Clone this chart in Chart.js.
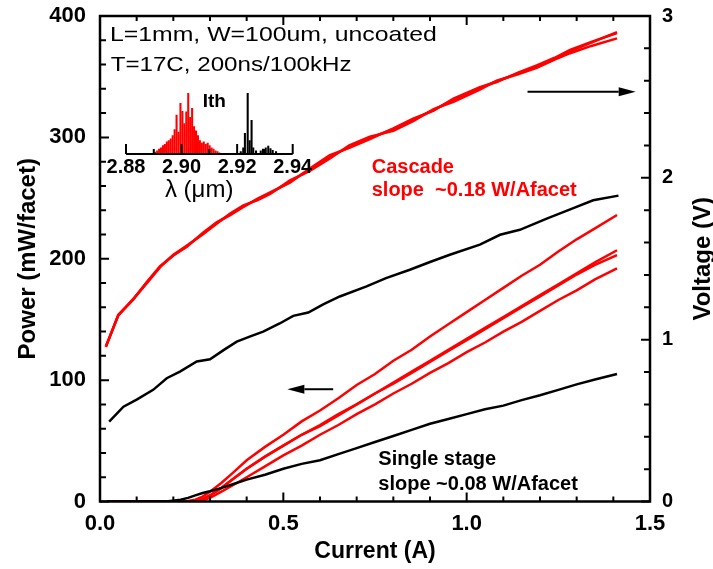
<!DOCTYPE html>
<html>
<head>
<meta charset="utf-8">
<script src="https://cdn.jsdelivr.net/npm/chart.js@4.4.1/dist/chart.umd.min.js"></script>
<style>
  html, body { margin: 0; padding: 0; background: #fff; }
  #wrap { position: relative; width: 713px; height: 569px; }
  #main { position: absolute; left: 0; top: 0; }
  #inset { position: absolute; left: 100px; top: 80px; }
</style>
</head>
<body>
<div id="wrap">
  <canvas id="main" width="713" height="569"></canvas>
  <canvas id="inset" width="230" height="130"></canvas>
</div>
<script>
// ---- power vs current (left axis, mW/facet) ----
const powerCurrent = [0.02,0.10,0.18,0.22,0.24,0.26,0.28,0.30,0.33,0.36,0.40,0.45,0.50,0.55,0.60,0.65,0.70,0.75,0.80,0.85,0.90,0.95,1.00,1.05,1.10,1.15,1.20,1.25,1.30,1.35,1.41];
const powerCascadeA = [0,0,0,0,0.5,1.5,4,8,15,23,34,45,55,66,75,85,96,105,116,125,136,146,156,166,176,186,195,206,216,225,236];
const powerCascadeB = [0,0,0,0,0,0.5,2,5,11,18,27,37,46,55,63,72,80,89,98,107,116,125,134,143,152,161,170,179,188,197,207];
const powerCascadeC = [0,0,0,0,0,0.5,2,5,11,18,27,37,46,55,62,71,80,89,97,106,115,124,133,142,151,160,169,178,187,195,203];
const powerCascadeD = [0,0,0,0,0,0,1,3,8,13,20,29,38,46,55,63,72,80,89,97,106,114,123,131,140,148,157,166,174,183,192];
const powerSingle   = [0,0,0,1.5,3,5,7,8.5,11,14,18,22,27,31,34,39,44,49,54,59,64,68,72,76,79,83.5,87.5,92,96.5,100.5,105];

// ---- voltage vs current (right axis, V) ----
const voltCurrentCascade = [0.016,0.05,0.09,0.13,0.164,0.20,0.236,0.28,0.318,0.355,0.391,0.43,0.464,0.518,0.57,0.627,0.68,0.736,0.80,0.854,0.91,0.964,1.036,1.082,1.14,1.191,1.24,1.282,1.34,1.41];
const voltCascade1 = [0.957,1.154,1.246,1.36,1.452,1.52,1.576,1.655,1.721,1.775,1.824,1.868,1.906,1.975,2.05,2.133,2.19,2.247,2.30,2.36,2.42,2.483,2.556,2.597,2.645,2.69,2.737,2.782,2.835,2.90];
const voltCascade2 = [0.96,1.15,1.25,1.355,1.448,1.525,1.58,1.65,1.716,1.78,1.83,1.862,1.90,1.985,2.04,2.12,2.2,2.255,2.29,2.35,2.425,2.47,2.545,2.60,2.64,2.68,2.73,2.77,2.815,2.862];
const voltCascade3 = [0.955,1.152,1.248,1.362,1.455,1.522,1.572,1.66,1.725,1.77,1.82,1.872,1.91,1.97,2.055,2.14,2.185,2.24,2.305,2.365,2.415,2.49,2.56,2.592,2.65,2.695,2.742,2.79,2.84,2.895];
const voltCurrentSingle = [0.025,0.064,0.10,0.145,0.182,0.218,0.264,0.30,0.34,0.373,0.41,0.445,0.49,0.527,0.568,0.61,0.654,0.727,0.78,0.845,0.90,0.954,1.036,1.091,1.145,1.22,1.291,1.345,1.414];
const voltSingle = [0.494,0.586,0.63,0.690,0.762,0.803,0.865,0.879,0.94,0.988,1.02,1.05,1.10,1.147,1.168,1.22,1.267,1.329,1.38,1.432,1.48,1.525,1.587,1.648,1.679,1.75,1.813,1.861,1.890];

// ---- inset spectrum at threshold (normalised) ----
const specRedWl = [2.8905,2.8912,2.8919,2.8926,2.8933,2.8940,2.8947,2.8954,2.8961,2.8968,2.8975,2.8982,2.8989,2.8996,2.9003,2.9010,2.9017,2.9024,2.9031,2.9038,2.9045,2.9052,2.9059,2.9066,2.9073,2.9080,2.9087,2.9094,2.9101,2.9108,2.9115,2.9122,2.9129,2.9136,2.9150];
const specRedInt = [0.03,0.05,0.08,0.10,0.14,0.16,0.20,0.22,0.25,0.30,0.40,0.64,0.36,0.83,0.70,0.50,0.69,1.00,0.60,0.75,0.45,0.38,0.30,0.22,0.18,0.20,0.16,0.18,0.14,0.10,0.08,0.05,0.04,0.02,0.01];
const specBlackWl = [2.9213,2.9222,2.9228,2.9238,2.9245,2.9252,2.9258,2.9268,2.9285,2.9293,2.9303,2.9312,2.9320,2.9328,2.9340];
const specBlackInt = [0.04,0.10,0.34,1.00,0.22,0.55,0.10,0.05,0.05,0.08,0.10,0.13,0.09,0.06,0.04];

const FONT = '"Liberation Sans", Arial, sans-serif';
const pts = (xs, ys) => xs.map((x, i) => ({ x: x, y: ys[i] }));

function lineSet(xs, ys, color, axis) {
  return { data: pts(xs, ys), borderColor: color, borderWidth: 2.5, yAxisID: axis, showLine: true, pointRadius: 0, fill: false };
}

function drawText(ctx, s, px, py, font, color, width) {
  ctx.save();
  ctx.font = font; ctx.fillStyle = color; ctx.textBaseline = 'alphabetic'; ctx.textAlign = 'left';
  ctx.translate(px, py);
  if (width) ctx.scale(width / ctx.measureText(s).width, 1);
  ctx.fillText(s, 0, 0);
  ctx.restore();
}

function arrow(ctx, x0, x1, y) {
  const dir = Math.sign(x1 - x0), head = 17;
  ctx.save();
  ctx.strokeStyle = '#000'; ctx.fillStyle = '#000'; ctx.lineWidth = 2;
  ctx.beginPath(); ctx.moveTo(x0, y); ctx.lineTo(x1 - dir * head, y); ctx.stroke();
  ctx.beginPath(); ctx.moveTo(x1, y); ctx.lineTo(x1 - dir * head, y - 4.5); ctx.lineTo(x1 - dir * head, y + 4.5); ctx.closePath(); ctx.fill();
  ctx.restore();
}

// frame with inward ticks, arrows and notes
const frame = {
  id: 'frame',
  afterDatasetsDraw(chart) {
    const { ctx, chartArea: a, scales } = chart;
    const { x, y, yV } = scales;
    ctx.save();
    ctx.strokeStyle = '#000';
    ctx.lineWidth = 2;
    ctx.beginPath();
    for (let v = 0; v <= 1.5001; v += 0.1) {
      const px = x.getPixelForValue(v), len = Math.abs(v * 2 - Math.round(v * 2)) < 1e-6 ? 9 : 5;
      ctx.moveTo(px, a.bottom); ctx.lineTo(px, a.bottom - len);
      ctx.moveTo(px, a.top); ctx.lineTo(px, a.top + len);
    }
    for (let v = 0; v <= 400; v += 20) {
      const py = y.getPixelForValue(v), len = v % 100 === 0 ? 9 : 6;
      ctx.moveTo(a.left, py); ctx.lineTo(a.left + len, py);
    }
    for (let v = 0; v <= 3.0001; v += 0.2) {
      const py = yV.getPixelForValue(v), len = Math.abs(v - Math.round(v)) < 1e-6 ? 9 : 6;
      ctx.moveTo(a.right, py); ctx.lineTo(a.right - len, py);
    }
    ctx.stroke();
    ctx.lineWidth = 2.5;
    ctx.strokeRect(a.left, a.top, a.right - a.left, a.bottom - a.top);
    ctx.restore();

    // right axis title, reading bottom to top
    ctx.save();
    ctx.translate(703, (a.top + a.bottom) / 2);
    ctx.rotate(-Math.PI / 2);
    ctx.font = 'bold 24px ' + FONT; ctx.fillStyle = '#000';
    ctx.textAlign = 'center'; ctx.textBaseline = 'middle';
    ctx.fillText('Voltage (V)', 0, 0);
    ctx.restore();

    arrow(ctx, x.getPixelForValue(1.166), x.getPixelForValue(1.461), y.getPixelForValue(337.5));
    arrow(ctx, x.getPixelForValue(0.636), x.getPixelForValue(0.511), y.getPixelForValue(92.5));

    const X = v => x.getPixelForValue(v), Y = v => y.getPixelForValue(v);
    drawText(ctx, 'L=1mm, W=100um, uncoated', X(0.027), Y(379), '21px ' + FONT, '#000', 327);
    drawText(ctx, 'T=17C, 200ns/100kHz', X(0.029), Y(354.5), '21px ' + FONT, '#000', 241);
    drawText(ctx, 'Cascade', X(0.741), Y(270.7), 'bold 20px ' + FONT, '#ff0000');
    drawText(ctx, 'slope  ~0.18 W/Afacet', X(0.741), Y(251.4), 'bold 20px ' + FONT, '#ff0000');
    drawText(ctx, 'Single stage', X(0.759), Y(30.1), 'bold 20px ' + FONT, '#000');
    drawText(ctx, 'slope ~0.08 W/Afacet', X(0.759), Y(9.5), 'bold 20px ' + FONT, '#000');
  }
};

// vertical scales: no extra top/bottom padding so the plot box starts at the layout padding
const noVPad = w => s => { s.width = w; s.paddingTop = 0; s.paddingBottom = 0; };

new Chart(document.getElementById('main'), {
  type: 'scatter',
  data: {
    datasets: [
      lineSet(powerCurrent, powerSingle, '#000000', 'y'),
      lineSet(voltCurrentSingle, voltSingle, '#000000', 'yV'),
      lineSet(powerCurrent, powerCascadeA, '#ff0000', 'y'),
      lineSet(powerCurrent, powerCascadeB, '#ff0000', 'y'),
      lineSet(powerCurrent, powerCascadeC, '#ff0000', 'y'),
      lineSet(powerCurrent, powerCascadeD, '#ff0000', 'y'),
      lineSet(voltCurrentCascade, voltCascade1, '#ff0000', 'yV'),
      lineSet(voltCurrentCascade, voltCascade2, '#ff0000', 'yV'),
      lineSet(voltCurrentCascade, voltCascade3, '#ff0000', 'yV')
    ]
  },
  options: {
    responsive: false,
    animation: false,
    layout: { padding: { top: 16, left: 0, right: 0, bottom: 0 } },
    plugins: { legend: { display: false }, tooltip: { enabled: false } },
    scales: {
      x: {
        type: 'linear', min: 0, max: 1.5,
        grid: { display: false, drawTicks: false, tickLength: 0 }, border: { display: false },
        ticks: { stepSize: 0.5, padding: 9, color: '#000', font: { family: FONT, size: 22, weight: 'bold' }, callback: v => v.toFixed(1) },
        title: { display: true, text: 'Current (A)', color: '#000', font: { family: FONT, size: 23, weight: 'bold' }, padding: { top: 2, bottom: 4 } },
        afterFit: s => { s.height = 67.5; }
      },
      y: {
        type: 'linear', position: 'left', min: 0, max: 400,
        grid: { display: false, drawTicks: false, tickLength: 0 }, border: { display: false },
        ticks: { stepSize: 100, padding: 14, color: '#000', font: { family: FONT, size: 22, weight: 'bold' } },
        title: { display: true, text: 'Power (mW/facet)', color: '#000', font: { family: FONT, size: 24, weight: 'bold' }, padding: { top: 14, bottom: 0 } },
        afterFit: noVPad(100)
      },
      yV: {
        type: 'linear', position: 'right', min: 0, max: 3,
        grid: { display: false, drawTicks: false, tickLength: 0 }, border: { display: false },
        ticks: { stepSize: 1, padding: 12, color: '#000', font: { family: FONT, size: 20, weight: 'bold' } },
        afterFit: noVPad(63)
      }
    }
  },
  plugins: [frame]
});

// ---- inset ----
const insetAxis = {
  id: 'insetAxis',
  afterDatasetsDraw(chart) {
    const { ctx, chartArea: a, scales: { x, y } } = chart;
    ctx.save();
    ctx.strokeStyle = '#000'; ctx.lineWidth = 2;
    ctx.beginPath();
    ctx.moveTo(x.getPixelForValue(2.88), a.bottom); ctx.lineTo(x.getPixelForValue(2.94), a.bottom);
    for (let v = 2.88; v <= 2.9401; v += 0.01) {
      const px = x.getPixelForValue(v);
      const major = Math.abs(v * 50 - Math.round(v * 50)) < 1e-6;
      ctx.moveTo(px, a.bottom); ctx.lineTo(px, a.bottom - (major ? 10 : 5));
    }
    ctx.stroke();
    ctx.restore();
    drawText(ctx, 'Ith', x.getPixelForValue(2.9076), y.getPixelForValue(0.775), 'bold 19px ' + FONT, '#000');
    drawText(ctx, '\u03bb (\u03bcm)', x.getPixelForValue(2.894), y.getPixelForValue(-0.70), '24px ' + FONT, '#000');
  }
};

new Chart(document.getElementById('inset'), {
  type: 'bar',
  data: {
    datasets: [
      { data: pts(specBlackWl, specBlackInt), backgroundColor: '#000000', barThickness: 1.4, grouped: false },
      { data: pts(specRedWl, specRedInt), backgroundColor: '#ff0000', barThickness: 1.4, grouped: false }
    ]
  },
  options: {
    responsive: false,
    animation: false,
    layout: { padding: { top: 13, left: 26, right: 37.3, bottom: 0 } },
    plugins: { legend: { display: false }, tooltip: { enabled: false } },
    scales: {
      x: {
        type: 'linear', min: 2.88, max: 2.94, offset: false,
        grid: { display: false, drawTicks: false, tickLength: 0 }, border: { display: false },
        ticks: { stepSize: 0.02, padding: 1, color: '#000', font: { family: FONT, size: 20, weight: 'bold' }, callback: v => v.toFixed(2) },
        afterFit: s => { s.height = 56; }
      },
      y: { display: false, min: 0, max: 1 }
    }
  },
  plugins: [insetAxis]
});
</script>
</body>
</html>
